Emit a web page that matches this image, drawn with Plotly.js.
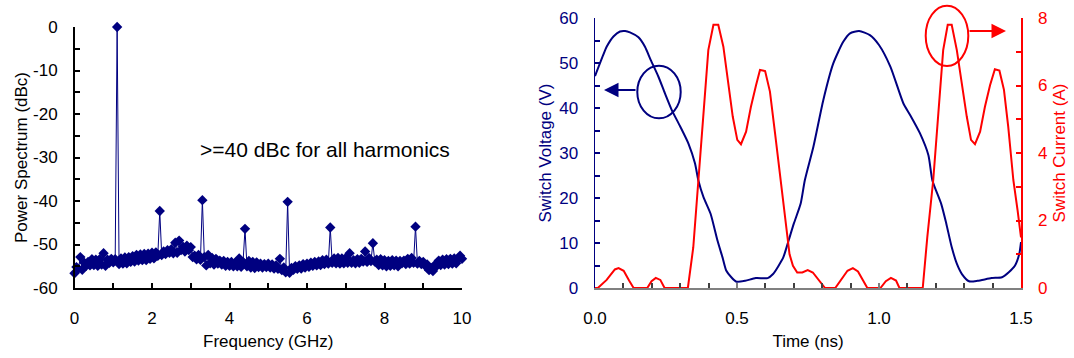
<!DOCTYPE html>
<html><head><meta charset="utf-8">
<script src="https://cdn.plot.ly/plotly-3.0.1.min.js"></script>
<style>html,body{margin:0;padding:0;background:#fff}#chart{width:1074px;height:358px}</style>
</head><body><div id="chart"></div>
<script>
// ---------- Left panel: power spectrum (dBc), sampled every 0.05 GHz from 0 to 10 GHz ----------
const spectrumStepGHz = 0.05;
const spectrumPower = [
  -56.6,-55.2,-55.6,-52.9,-55.8,-54.2,-54.9,-54.0,-54.8,-53.4,
  -54.7,-53.5,-54.9,-53.4,-54.6,-52.0,-54.9,-53.5,-54.2,-53.3,
  -54.1,-53.4,0,-54.5,-53.2,-54.4,-53.0,-54.3,-52.9,-54.0,
  -52.7,-53.9,-52.4,-53.7,-52.3,-53.6,-52.2,-53.6,-52.1,-53.3,
  -51.9,-53.2,-51.8,-52.6,-42.3,-52.4,-51.6,-52.2,-51.3,-51.9,
  -51.1,-52.0,-49.6,-51.9,-49.1,-51.3,-50.5,-51.6,-50.3,-51.3,
  -50.6,-52.9,-52.6,-53.4,-52.4,-53.5,-39.8,-52.9,-54.8,-52.4,
  -54.3,-53.1,-54.6,-53.3,-54.4,-53.7,-54.6,-53.8,-54.9,-54.0,
  -54.9,-54.0,-55.0,-54.2,-55.0,-53.2,-55.1,-54.0,-46.4,-55.0,
  -53.8,-55.3,-54.0,-55.4,-54.1,-55.2,-54.4,-55.3,-54.5,-55.2,
  -54.4,-55.3,-54.6,-55.5,-54.8,-55.6,-53.3,-55.9,-55.3,-56.4,
  -40.2,-56.5,-55.4,-55.8,-55.0,-55.6,-54.8,-55.5,-54.5,-55.3,
  -54.4,-55.1,-54.2,-54.9,-54.0,-54.8,-53.9,-54.7,-53.6,-54.5,
  -53.5,-54.4,-46.1,-54.2,-53.2,-54.3,-53.1,-54.4,-53.2,-54.3,
  -53.1,-54.2,-52.0,-54.2,-53.6,-54.3,-53.4,-54.2,-53.3,-53.9,
  -51.6,-54.0,-53.1,-53.8,-49.7,-53.9,-53.5,-54.7,-53.4,-54.8,
  -53.6,-55.0,-53.8,-54.9,-53.6,-54.8,-53.7,-55.0,-53.8,-54.3,
  -53.7,-54.5,-53.3,-54.4,-53.1,-54.2,-45.9,-54.4,-53.8,-54.5,
  -54.0,-54.9,-54.6,-55.9,-55.4,-56.1,-54.7,-54.9,-53.7,-54.7,
  -53.5,-54.6,-53.4,-54.5,-53.3,-54.4,-53.2,-54.3,-53.2,-52.6,
  -53.3
];
const spectrumFreq = spectrumPower.map((_, i) => +(i * spectrumStepGHz).toFixed(2));
const powerTickVals = [-60, -50, -40, -30, -20, -10, 0];
const powerTickText = ['-60', '-50', '-40', '-30', '-20', '-10', '0'];

// ---------- Right panel: switch voltage (V) and current (A) vs time (ns) ----------
const voltTime = [0,0.029,0.041,0.065,0.088,0.106,0.123,0.153,0.176,0.196,
  0.223,0.246,0.27,0.3,0.329,0.352,0.364,0.382,0.407,0.431,
  0.449,0.462,0.48,0.498,0.529,0.566,0.608,0.627,0.645,0.663,
  0.682,0.7,0.724,0.739,0.769,0.804,0.839,0.874,0.898,0.93,
  0.968,1.0,1.04,1.086,1.11,1.144,1.174,1.188,1.219,1.237,
  1.256,1.274,1.292,1.317,1.347,1.396,1.433,1.457,1.479,1.494,1.5];
const voltValue = [47.1,51.8,53.6,55.9,57.0,57.1,56.8,55.7,53.6,50.7,
  47.0,43.3,39.6,35.9,32.1,27.7,23.9,20.2,16.5,10.6,
  6.8,3.9,2.4,1.4,1.6,2.2,2.2,3.1,4.8,6.8,
  10.6,14.3,18.7,24.0,31.4,41.8,49.9,54.7,56.6,57.1,
  56.2,54.0,49.2,41.0,38.4,34.4,29.5,23.9,18.7,14.3,
  9.1,5.4,3.1,1.5,1.6,2.2,2.4,3.5,5.0,7.6,10.2];

const currTime = [0,0.01,0.041,0.07,0.083,0.101,0.12,0.136,0.184,0.199,
  0.214,0.23,0.245,0.327,0.346,0.364,0.381,0.399,0.417,0.434,
  0.452,0.469,0.485,0.501,0.514,0.532,0.549,0.567,0.581,0.599,
  0.616,0.634,0.651,0.67,0.685,0.697,0.712,0.73,0.749,0.767,
  0.785,0.81,0.846,0.865,0.889,0.908,0.926,0.944,0.959,1.005,
  1.024,1.042,1.06,1.072,1.154,1.17,1.191,1.209,1.226,1.242,
  1.256,1.274,1.291,1.309,1.324,1.338,1.356,1.373,1.391,1.408,
  1.424,1.44,1.455,1.473,1.488,1.5];
const currValue = [0,0,0.24,0.55,0.59,0.51,0.22,0,0,0.2,
  0.3,0.24,0,0,1.2,3.2,5.27,7.05,7.8,7.8,
  7.15,6.06,5.08,4.39,4.26,4.63,5.37,6.01,6.46,6.43,
  5.82,4.58,3.35,2.0,1.0,0.66,0.46,0.46,0.53,0.46,
  0.27,0,0,0.22,0.51,0.59,0.49,0.22,0,0,
  0.2,0.3,0.22,0,0,1.5,3.2,5.18,7.05,7.8,
  7.8,7.05,6.06,5.08,4.39,4.26,4.63,5.37,6.01,6.48,
  6.44,5.87,4.78,3.2,2.3,1.5];

// ---------- Text ----------
const leftXTitle = 'Frequency (GHz)';
const leftYTitle = 'Power Spectrum (dBc)';
const rightXTitle = 'Time (ns)';
const voltTitle = 'Switch Voltage (V)';
const currTitle = 'Switch Current (A)';
const noteText = '>=40 dBc for all harmonics';

// ---------- Styling / layout ----------
const W = 1074, H = 358;
const px = p => p / W;
const py = p => (H - p) / H;
const NAVY = '#000080', RED = '#ff0000';
const FONT = 'Liberation Sans, Arial, sans-serif';
const FS = 17;
const TW = 2, LW = 1.5;

const traces = [
  {x: spectrumFreq, y: spectrumPower, xaxis: 'x', yaxis: 'y', type: 'scatter', mode: 'lines+markers',
   line: {color: NAVY, width: 1}, marker: {symbol: 'diamond', size: 8, color: NAVY}, cliponaxis: false, showlegend: false},
  {x: voltTime, y: voltValue, xaxis: 'x2', yaxis: 'y2', type: 'scatter', mode: 'lines',
   line: {color: NAVY, width: 2, shape: 'spline', smoothing: 0.6}, showlegend: false},
  {x: currTime, y: currValue, xaxis: 'x2', yaxis: 'y3', type: 'scatter', mode: 'lines',
   line: {color: RED, width: 2}, showlegend: false}
];

function baseAxis(color, lineColor) {
  return {showgrid: false, zeroline: false, showline: true, linecolor: lineColor || color, linewidth: LW,
    ticks: 'inside', ticklen: 5, tickwidth: TW, tickcolor: lineColor || color,
    tickfont: {family: FONT, size: FS, color: color}, fixedrange: true};
}

const layout = {
  width: W, height: H, margin: {l: 0, r: 0, t: 0, b: 0}, paper_bgcolor: '#fff', plot_bgcolor: 'rgba(0,0,0,0)',
  font: {family: FONT, size: FS, color: '#000'}, showlegend: false,
  xaxis: Object.assign(baseAxis('#000'), {domain: [px(74.5), px(462)], anchor: 'y', range: [0, 10],
    tickmode: 'linear', tick0: 0, dtick: 2, ticklabelstandoff: 14,
    minor: {dtick: 1, ticks: 'inside', ticklen: 5, tickwidth: TW, tickcolor: '#000', showgrid: false},
    title: {text: leftXTitle, font: {family: FONT, size: FS, color: '#000'}, standoff: 8}}),
  yaxis: Object.assign(baseAxis('#000'), {domain: [py(288), py(27)], anchor: 'x', range: [-60, 0],
    tickmode: 'array', tickvals: powerTickVals, ticktext: powerTickText, ticklabelstandoff: 12,
    minor: {dtick: 5, ticks: 'inside', ticklen: 5, tickwidth: TW, tickcolor: '#000', showgrid: false},
    title: {text: leftYTitle, font: {family: FONT, size: FS, color: '#000'}, standoff: 1}}),
  xaxis2: Object.assign(baseAxis('#000', '#808080'), {domain: [px(595), px(1021)], anchor: 'y2', range: [0, 1.5],
    tickmode: 'linear', tick0: 0, dtick: 0.5, tickformat: '.1f', ticklabelstandoff: 14,
    minor: {dtick: 0.1, ticks: 'inside', ticklen: 5, tickwidth: TW, tickcolor: '#404040', showgrid: false},
    title: {text: rightXTitle, font: {family: FONT, size: FS, color: '#000'}, standoff: 8}}),
  yaxis2: Object.assign(baseAxis(NAVY), {domain: [py(288), py(18)], anchor: 'x2', range: [0, 60],
    tickmode: 'linear', tick0: 0, dtick: 10, ticklabelstandoff: 12,
    minor: {dtick: 5, ticks: 'inside', ticklen: 5, tickwidth: TW, tickcolor: NAVY, showgrid: false},
    title: {text: voltTitle, font: {family: FONT, size: FS, color: NAVY}, standoff: 3}}),
  yaxis3: Object.assign(baseAxis(RED), {domain: [py(288), py(18)], anchor: 'x2', overlaying: 'y2', side: 'right', range: [0, 8],
    tickmode: 'linear', tick0: 0, dtick: 2, ticklabelstandoff: 12,
    minor: {dtick: 1, ticks: 'inside', ticklen: 5, tickwidth: TW, tickcolor: RED, showgrid: false},
    title: {text: currTitle, font: {family: FONT, size: FS, color: RED}, standoff: 6}}),
  shapes: [
    {type: 'circle', xref: 'paper', yref: 'paper', x0: px(637.3), x1: px(680.7), y0: py(118.3), y1: py(65.7),
     line: {color: NAVY, width: 2}},
    {type: 'circle', xref: 'paper', yref: 'paper', x0: px(925.7), x1: px(968.3), y0: py(66), y1: py(5.7),
     line: {color: RED, width: 2}}
  ],
  annotations: [
    {xref: 'paper', yref: 'paper', x: px(198), y: py(150), xanchor: 'left', yanchor: 'middle', showarrow: false,
     text: noteText, font: {family: FONT, size: 21, color: '#000'}},
    {xref: 'paper', yref: 'paper', x: px(604), y: py(90), ax: 33, ay: 0, text: '', showarrow: true,
     arrowhead: 2, arrowsize: 1.45, arrowwidth: 2, arrowcolor: NAVY},
    {xref: 'paper', yref: 'paper', x: px(1006), y: py(31), ax: -38, ay: 0, text: '', showarrow: true,
     arrowhead: 2, arrowsize: 1.45, arrowwidth: 2, arrowcolor: RED}
  ]
};

Plotly.newPlot('chart', traces, layout, {displayModeBar: false, staticPlot: true});
</script>
</body></html>
